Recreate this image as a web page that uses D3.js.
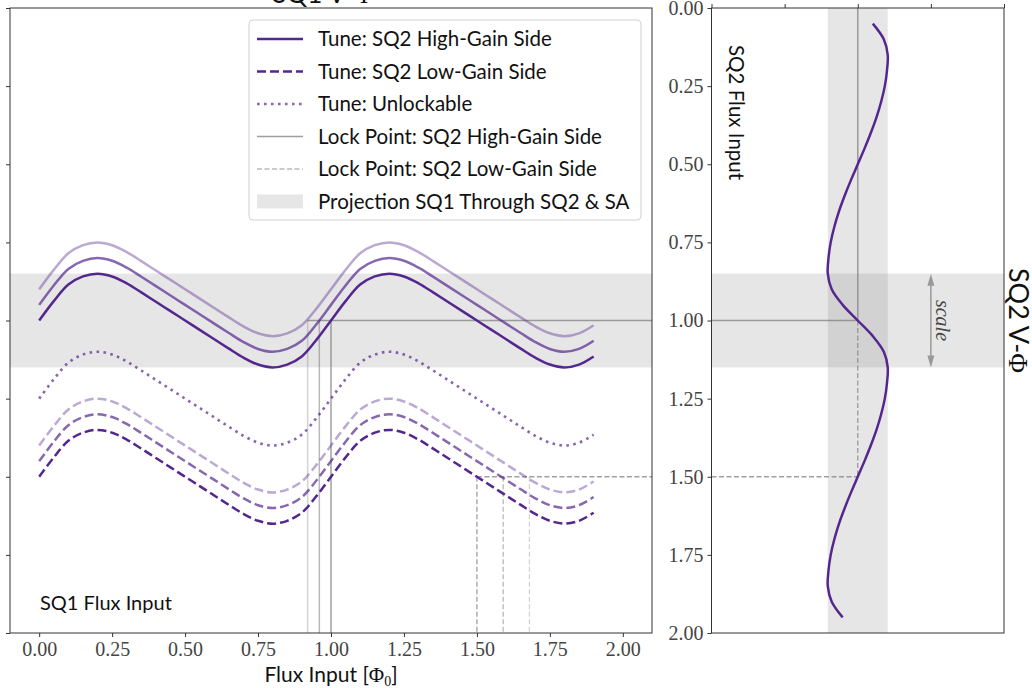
<!DOCTYPE html>
<html><head><meta charset="utf-8">
<script src="https://cdn.jsdelivr.net/npm/d3@7"></script>
<style>body{margin:0;background:#fff} svg{display:block}</style>
</head><body>
<svg id="c" width="1032" height="688"></svg>
<script>
// ---------- data ----------
const fluxInput = [0,0.05,0.10,0.15,0.20,0.25,0.30,0.35,0.40,0.45,0.50,0.55,0.60,0.65,0.70,0.75,0.80,0.85,0.90,0.95,
  1.00,1.05,1.10,1.15,1.20,1.25,1.30,1.35,1.40,1.45,1.50,1.55,1.60,1.65,1.70,1.75,1.80,1.85,1.90];
// SQ1 V-Phi deviation (relative to its start level)
const sq1Shape = [0,-0.062,-0.115,-0.141,-0.150,-0.141,-0.119,-0.090,-0.060,-0.030,0,0.030,0.060,0.090,0.119,0.141,0.150,0.141,0.115,0.062,
  0,-0.062,-0.115,-0.141,-0.150,-0.141,-0.119,-0.090,-0.060,-0.030,0,0.030,0.060,0.090,0.119,0.141,0.150,0.141,0.115];
const highGainLevels = [1.00, 0.95, 0.90];
const lowGainLevels = [1.50, 1.45, 1.40];
const unlockLevel = 1.25;
const highLockFlux = [1.00, 0.96, 0.92];
const lowLockFlux = [1.50, 1.59, 1.68];
const lockLevels = [1.00, 1.50];
const bandRange = [0.85, 1.15];
const sq2Flux = [0.05,0.10,0.15,0.20,0.25,0.30,0.35,0.40,0.45,0.50,0.55,0.60,0.65,0.70,0.75,0.80,0.85,0.90,0.95,
  1.00,1.05,1.10,1.15,1.20,1.25,1.30,1.35,1.40,1.45,1.50,1.55,1.60,1.65,1.70,1.75,1.80,1.85,1.90,1.95];
const sq2Volt = [0.103,0.178,0.205,0.200,0.185,0.160,0.128,0.089,0.046,0,-0.046,-0.089,-0.128,-0.160,-0.185,-0.200,-0.205,-0.178,-0.103,
  0,0.103,0.178,0.205,0.200,0.185,0.160,0.128,0.089,0.046,0,-0.046,-0.089,-0.128,-0.160,-0.185,-0.200,-0.205,-0.178,-0.103];
const sq2VoltBand = [-0.205, 0.205];
const scaleArrowX = 0.5;
const xTicks = [0,0.25,0.5,0.75,1.0,1.25,1.5,1.75,2.0];
const yTicks = [0,0.25,0.5,0.75,1.0,1.25,1.5,1.75,2.0];
const xTicksRight = [-1,-0.5,0,0.5,1];
const legendLabels = ["Tune: SQ2 High-Gain Side","Tune: SQ2 Low-Gain Side","Tune: Unlockable",
  "Lock Point: SQ2 High-Gain Side","Lock Point: SQ2 Low-Gain Side","Projection SQ1 Through SQ2 & SA"];

// ---------- styles ----------
const PURPLE = "#54278f";
const shadeOpacity = [1, 0.7, 0.4];
const lockOpacity = [0.75, 0.55, 0.35];
const GRAY = "#808080";
const SANS = "Lato, 'Open Sans', sans-serif";
const SERIF = "'Liberation Serif', 'DejaVu Serif', serif";

const svg = d3.select("#c");
const L = {x0:10, x1:652, y0:8, y1:633};
const R = {x0:711.5, x1:1004, y0:8, y1:633};
const x = d3.scaleLinear([-0.1, 2.1], [L.x0, L.x1]);
const y = d3.scaleLinear([0, 2], [L.y0, L.y1]);
const xr = d3.scaleLinear([-1, 1], [R.x0, R.x1]);

const defs = svg.append("defs");
defs.append("clipPath").attr("id","clipL").append("rect").attr("x",L.x0).attr("y",L.y0).attr("width",L.x1-L.x0).attr("height",L.y1-L.y0);
defs.append("clipPath").attr("id","clipR").append("rect").attr("x",R.x0).attr("y",R.y0).attr("width",R.x1-R.x0).attr("height",R.y1-R.y0);

// ---------- left panel ----------
const gL = svg.append("g").attr("clip-path","url(#clipL)");
gL.append("rect").attr("x",L.x0).attr("width",L.x1-L.x0)
  .attr("y",y(bandRange[0])).attr("height",y(bandRange[1])-y(bandRange[0]))
  .attr("fill",GRAY).attr("fill-opacity",0.2);

highLockFlux.forEach((f,i)=>{
  gL.append("line").attr("x1",x(f)).attr("x2",x(f)).attr("y1",y(lockLevels[0])).attr("y2",y(2))
    .attr("stroke",GRAY).attr("stroke-opacity",lockOpacity[i]).attr("stroke-width",1.5);
});
gL.append("line").attr("x1",x(d3.min(highLockFlux))).attr("x2",L.x1).attr("y1",y(lockLevels[0])).attr("y2",y(lockLevels[0]))
  .attr("stroke",GRAY).attr("stroke-opacity",lockOpacity[0]).attr("stroke-width",1.5);
lowLockFlux.forEach((f,i)=>{
  gL.append("line").attr("x1",x(f)).attr("x2",x(f)).attr("y1",y(lockLevels[1])).attr("y2",y(2))
    .attr("stroke",GRAY).attr("stroke-opacity",lockOpacity[i]).attr("stroke-width",1.3).attr("stroke-dasharray","5,2.5");
});
gL.append("line").attr("x1",x(d3.min(lowLockFlux))).attr("x2",L.x1).attr("y1",y(lockLevels[1])).attr("y2",y(lockLevels[1]))
  .attr("stroke",GRAY).attr("stroke-opacity",lockOpacity[0]).attr("stroke-width",1.3).attr("stroke-dasharray","5,2.5");

const lineL = level => d3.line().curve(d3.curveCatmullRom.alpha(0.5))
  .x((d,i)=>x(fluxInput[i])).y((d,i)=>y(level + sq1Shape[i]))(sq1Shape);

[2,1,0].forEach(i=>{
  gL.append("path").attr("d",lineL(highGainLevels[i])).attr("fill","none")
    .attr("stroke",PURPLE).attr("stroke-opacity",shadeOpacity[i]).attr("stroke-width",2.5);
});
gL.append("path").attr("d",lineL(unlockLevel)).attr("fill","none")
  .attr("stroke",PURPLE).attr("stroke-opacity",0.7).attr("stroke-width",2.6).attr("stroke-dasharray","2.6,4.4");
[2,1,0].forEach(i=>{
  gL.append("path").attr("d",lineL(lowGainLevels[i])).attr("fill","none")
    .attr("stroke",PURPLE).attr("stroke-opacity",shadeOpacity[i]).attr("stroke-width",2.5).attr("stroke-dasharray","9,4");
});

// axes left
const axB = svg.append("g").attr("transform",`translate(0,${L.y1})`)
  .call(d3.axisBottom(x).tickValues(xTicks).tickSize(4).tickPadding(5).tickFormat(d3.format(".2f")));
const axLy = svg.append("g").attr("transform",`translate(${L.x0},0)`)
  .call(d3.axisLeft(y).tickValues(yTicks).tickSize(4).tickFormat(""));
[axB, axLy].forEach(a=>{a.select(".domain").remove(); a.selectAll("line").attr("stroke","#333");
  a.selectAll("text").attr("font-family",SERIF).attr("font-size",20).attr("fill","#444");});
svg.append("rect").attr("x",L.x0).attr("y",L.y0).attr("width",L.x1-L.x0).attr("height",L.y1-L.y0)
  .attr("fill","none").attr("stroke","#333").attr("stroke-width",1);

// title (cropped at top edge, as in the reference)
const title = svg.append("text").attr("x",(L.x0+L.x1)/2 - 8).attr("y",3).attr("text-anchor","middle")
  .attr("font-family",SANS).attr("font-size",26).attr("fill","#111");
title.append("tspan").text("SQ1 V-");
title.append("tspan").attr("font-family",SERIF).text("Φ");

svg.append("text").attr("x",40).attr("y",610).attr("font-family",SANS).attr("font-size",20).attr("fill","#111").text("SQ1 Flux Input");

const xl = svg.append("text").attr("x",(L.x0+L.x1)/2).attr("y",682).attr("text-anchor","middle")
  .attr("font-family",SANS).attr("font-size",21).attr("fill","#111");
xl.append("tspan").text("Flux Input [");
xl.append("tspan").attr("font-family",SERIF).text("Φ");
xl.append("tspan").attr("font-family",SERIF).attr("font-size",14).attr("dy",4).text("0");
xl.append("tspan").attr("dy",-4).text("]");

// legend
const lg = svg.append("g");
lg.append("rect").attr("x",249).attr("y",20).attr("width",392).attr("height",200).attr("rx",4)
  .attr("fill","#fff").attr("fill-opacity",0.85).attr("stroke","#d0d0d0");
legendLabels.forEach((lab,i)=>{
  const cy = 39 + i*32.5;
  const hx0 = 257, hx1 = 303;
  if(i===5){
    lg.append("rect").attr("x",hx0).attr("y",cy-7).attr("width",hx1-hx0).attr("height",14)
      .attr("fill",GRAY).attr("fill-opacity",0.2);
  } else {
    const ln = lg.append("line").attr("x1",hx0).attr("x2",hx1).attr("y1",cy).attr("y2",cy);
    if(i<3){ ln.attr("stroke",PURPLE).attr("stroke-width",2.5).attr("stroke-opacity", i===2?0.7:1); }
    else { ln.attr("stroke",GRAY).attr("stroke-opacity",lockOpacity[0]).attr("stroke-width",1.4); }
    if(i===1) ln.attr("stroke-dasharray","9,4");
    if(i===2) ln.attr("stroke-dasharray","2.6,4.4");
    if(i===4) ln.attr("stroke-dasharray","5,2.5").attr("stroke-opacity",lockOpacity[1]);
  }
  lg.append("text").attr("x",318).attr("y",cy+7).attr("font-family",SANS).attr("font-size",20.5)
    .attr("fill","#111").text(lab);
});

// ---------- right panel ----------
const gR = svg.append("g").attr("clip-path","url(#clipR)");
gR.append("rect").attr("x",R.x0).attr("width",R.x1-R.x0)
  .attr("y",y(bandRange[0])).attr("height",y(bandRange[1])-y(bandRange[0]))
  .attr("fill",GRAY).attr("fill-opacity",0.2);
gR.append("rect").attr("x",xr(sq2VoltBand[0])).attr("width",xr(sq2VoltBand[1])-xr(sq2VoltBand[0]))
  .attr("y",R.y0).attr("height",R.y1-R.y0)
  .attr("fill",GRAY).attr("fill-opacity",0.2);

gR.append("line").attr("x1",xr(0)).attr("x2",xr(0)).attr("y1",y(0)).attr("y2",y(lockLevels[0]))
  .attr("stroke",GRAY).attr("stroke-opacity",lockOpacity[0]).attr("stroke-width",1.5);
gR.append("line").attr("x1",R.x0).attr("x2",xr(0)).attr("y1",y(lockLevels[0])).attr("y2",y(lockLevels[0]))
  .attr("stroke",GRAY).attr("stroke-opacity",lockOpacity[0]).attr("stroke-width",1.5);
gR.append("line").attr("x1",xr(0)).attr("x2",xr(0)).attr("y1",y(lockLevels[0])).attr("y2",y(lockLevels[1]))
  .attr("stroke",GRAY).attr("stroke-opacity",lockOpacity[0]).attr("stroke-width",1.3).attr("stroke-dasharray","5,2.5");
gR.append("line").attr("x1",R.x0).attr("x2",xr(0)).attr("y1",y(lockLevels[1])).attr("y2",y(lockLevels[1]))
  .attr("stroke",GRAY).attr("stroke-opacity",lockOpacity[0]).attr("stroke-width",1.3).attr("stroke-dasharray","5,2.5");

gR.append("path").attr("d", d3.line().curve(d3.curveCatmullRom.alpha(0.5))
    .x(d=>xr(d)).y((d,i)=>y(sq2Flux[i]))(sq2Volt))
  .attr("fill","none").attr("stroke",PURPLE).attr("stroke-width",2.5);

// scale arrow
const ax0 = xr(scaleArrowX), ay0 = y(bandRange[0]), ay1 = y(bandRange[1]);
gR.append("line").attr("x1",ax0).attr("x2",ax0).attr("y1",ay0+10).attr("y2",ay1-10).attr("stroke","#999").attr("stroke-width",1.5);
gR.append("path").attr("d",`M${ax0},${ay0} l-3.5,12 l7,0 z`).attr("fill","#999");
gR.append("path").attr("d",`M${ax0},${ay1} l-3.5,-12 l7,0 z`).attr("fill","#999");
svg.append("text").attr("transform",`translate(${ax0+5},${(ay0+ay1)/2}) rotate(90)`).attr("text-anchor","middle")
  .attr("font-family",SERIF).attr("font-style","italic").attr("font-size",20).attr("fill","#444").text("scale");

// axes right
const axRy = svg.append("g").attr("transform",`translate(${R.x0},0)`)
  .call(d3.axisLeft(y).tickValues(yTicks).tickSize(4).tickPadding(4).tickFormat(d3.format(".2f")));
const axRt = svg.append("g").attr("transform",`translate(0,${R.y0})`)
  .call(d3.axisTop(xr).tickValues(xTicksRight).tickSize(4).tickFormat(""));
[axRy, axRt].forEach(a=>{a.select(".domain").remove(); a.selectAll("line").attr("stroke","#333");
  a.selectAll("text").attr("font-family",SERIF).attr("font-size",20).attr("fill","#444");});
svg.append("rect").attr("x",R.x0).attr("y",R.y0).attr("width",R.x1-R.x0).attr("height",R.y1-R.y0)
  .attr("fill","none").attr("stroke","#333").attr("stroke-width",1);

svg.append("text").attr("transform",`translate(${R.x0+17},45) rotate(90)`)
  .attr("font-family",SANS).attr("font-size",20.5).attr("fill","#111").text("SQ2 Flux Input");

const rl = svg.append("text").attr("transform",`translate(1009,${(R.y0+R.y1)/2}) rotate(90)`).attr("text-anchor","middle")
  .attr("font-family",SANS).attr("font-size",27).attr("fill","#111");
rl.append("tspan").text("SQ2 V-");
rl.append("tspan").attr("font-family",SERIF).text("Φ");
</script>
</body></html>
